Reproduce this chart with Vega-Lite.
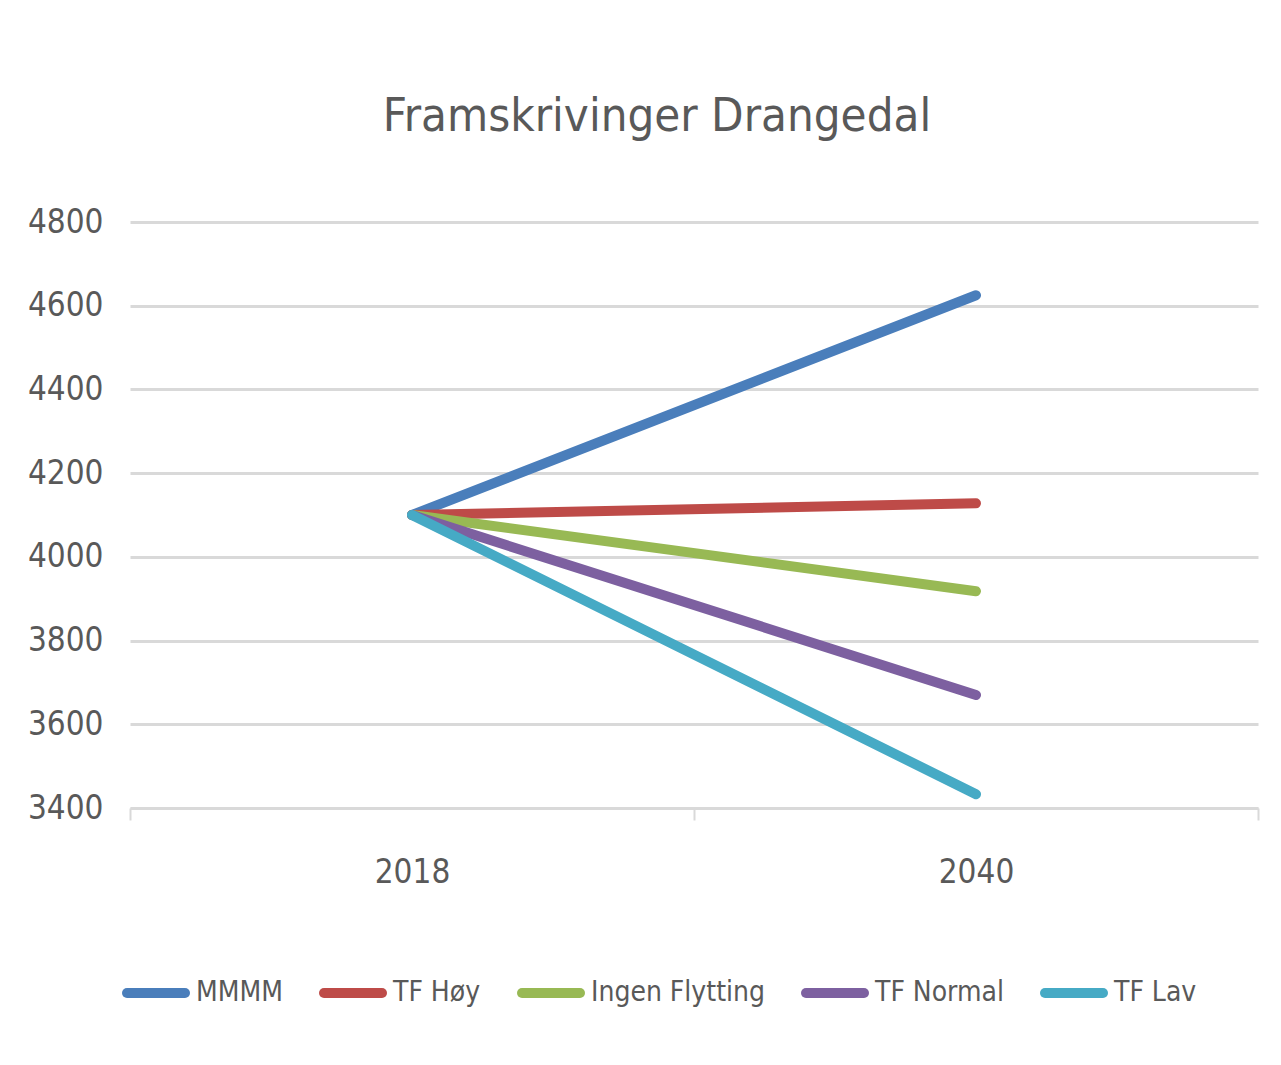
{
  "$schema": "https://vega.github.io/schema/vega-lite/v6.json",
  "width": 1128,
  "height": 586,
  "autosize": {"type": "none"},
  "padding": {"left": 130, "top": 222, "right": 23, "bottom": 257},
  "background": "white",
  "title": {
    "text": "Framskrivinger Drangedal",
    "anchor": "middle",
    "dx": -37,
    "offset": 28,
    "baseline": "alphabetic",
    "font": "DejaVu Sans Condensed, sans-serif",
    "fontSize": 47,
    "fontWeight": "normal",
    "color": "#595959"
  },
  "data": {
    "values": [
      {"series": "MMMM", "year": 2018, "value": 4100},
      {"series": "MMMM", "year": 2040, "value": 4625},
      {"series": "TF Høy", "year": 2018, "value": 4100},
      {"series": "TF Høy", "year": 2040, "value": 4128},
      {"series": "Ingen Flytting", "year": 2018, "value": 4100},
      {"series": "Ingen Flytting", "year": 2040, "value": 3918},
      {"series": "TF Normal", "year": 2018, "value": 4100},
      {"series": "TF Normal", "year": 2040, "value": 3670},
      {"series": "TF Lav", "year": 2018, "value": 4100},
      {"series": "TF Lav", "year": 2040, "value": 3433}
    ]
  },
  "mark": {"type": "line", "strokeWidth": 10, "strokeCap": "round", "strokeJoin": "round"},
  "encoding": {
    "x": {
      "field": "year",
      "type": "quantitative",
      "scale": {"domain": [2007, 2051], "nice": false, "zero": false},
      "axis": {
        "title": null,
        "values": [2007, 2018, 2029, 2040, 2051],
        "format": "d",
        "labelExpr": "datum.value == 2018 || datum.value == 2040 ? datum.label : ''",
        "grid": false,
        "domainColor": "#d9d9d9",
        "domainWidth": 2,
        "tickColor": "#d9d9d9",
        "tickWidth": 2,
        "tickSize": 12,
        "tickOpacity": {"condition": {"test": "datum.value == 2018 || datum.value == 2040", "value": 0}, "value": 1},
        "labelPadding": 36,
        "labelFont": "DejaVu Sans Condensed, sans-serif",
        "labelFontSize": 33,
        "labelColor": "#595959",
        "labelFlush": false
      }
    },
    "y": {
      "field": "value",
      "type": "quantitative",
      "scale": {"domain": [3400, 4800], "nice": false, "zero": false},
      "axis": {
        "title": null,
        "values": [3400, 3600, 3800, 4000, 4200, 4400, 4600, 4800],
        "format": "d",
        "domain": false,
        "ticks": false,
        "gridColor": "#d9d9d9",
        "gridWidth": 3,
        "labelPadding": 27,
        "labelFont": "DejaVu Sans Condensed, sans-serif",
        "labelFontSize": 33,
        "labelColor": "#595959"
      }
    },
    "color": {
      "field": "series",
      "type": "nominal",
      "sort": ["MMMM", "TF Høy", "Ingen Flytting", "TF Normal", "TF Lav"],
      "scale": {
        "domain": ["MMMM", "TF Høy", "Ingen Flytting", "TF Normal", "TF Lav"],
        "range": ["#4a7ebb", "#be4b48", "#98b954", "#7d60a0", "#46aac5"]
      },
      "legend": {
        "title": null,
        "orient": "none",
        "direction": "horizontal",
        "legendX": -8,
        "legendY": 737,
        "padding": 0,
        "symbolType": "stroke",
        "symbolSize": 3364,
        "symbolStrokeWidth": 10,
        "labelOffset": 6,
        "columnPadding": 21,
        "labelFont": "DejaVu Sans Condensed, sans-serif",
        "labelFontSize": 28,
        "labelColor": "#595959",
        "labelLimit": 400,
        "encode": {"symbols": {"update": {"strokeCap": {"value": "round"}}}}
      }
    }
  },
  "config": {"view": {"stroke": null}}
}
